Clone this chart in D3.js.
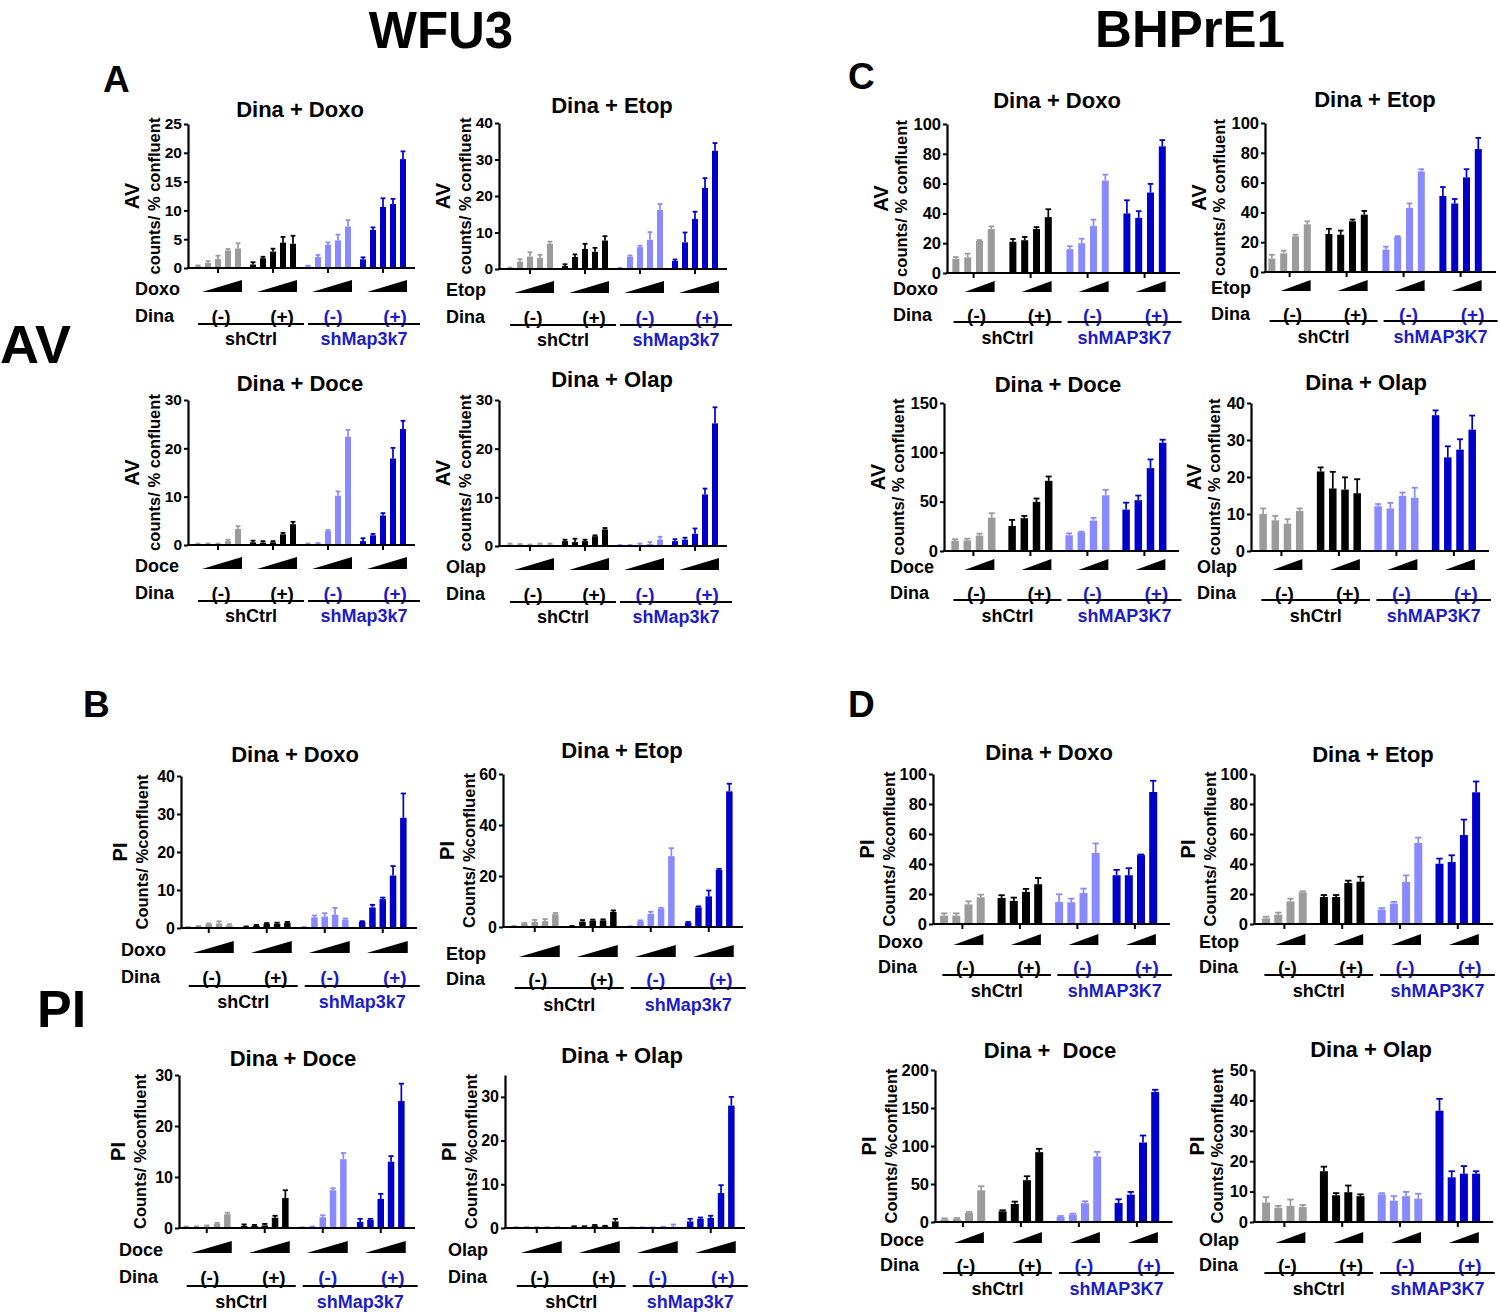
<!DOCTYPE html>
<html>
<head>
<meta charset="utf-8">
<script src="https://cdn.jsdelivr.net/npm/d3@7/dist/d3.min.js"></script>
<style>
  html, body { margin: 0; padding: 0; background: #fff; }
  svg text { font-family: "Liberation Sans", Arial, sans-serif; font-weight: bold; white-space: pre; }
</style>
</head>
<body>
<svg id="fig" width="1500" height="1313"></svg>
<script>
// ---------------- DATA ----------------
// groups: shCtrl Dina(-), shCtrl Dina(+), shKD Dina(-), shKD Dina(+); each with increasing drug dose
const dinaLabels = ["(-)", "(+)", "(-)", "(+)"];
const cellLabelsWFU3 = ["shCtrl", "shMap3k7"];
const cellLabelsBHPrE1 = ["shCtrl", "shMAP3K7"];

// WFU3 AV (panel A)
const A_Doxo_mean = [[0.35,0.9,1.55,3.05,3.4],[0.6,1.7,2.85,4.4,4.2],[0.3,1.9,4.05,4.8,7.2],[1.5,6.6,10.6,11.1,18.9]];
const A_Doxo_sem  = [[0.1,0.3,0.6,0.25,0.9],[0.4,0.25,0.5,1.0,1.4],[0.1,0.35,0.4,1.0,1.1],[0.35,0.45,1.5,0.9,1.35]];
const A_Etop_mean = [[0.3,2.0,3.4,3.0,6.9],[0.8,3.3,5.5,4.7,7.8],[0.2,3.4,6.0,8.0,16.2],[2.2,7.3,13.7,22.2,32.4]];
const A_Etop_sem  = [[0.1,0.7,1.2,0.9,0.6],[0.5,0.7,1.4,1.1,1.2],[0.1,0.3,0.4,2.1,1.6],[0.4,2.7,2.0,2.7,2.1]];
const A_Doce_mean = [[0.2,0.2,0.2,0.8,3.3],[0.55,0.5,0.55,2.2,4.3],[0.2,0.3,2.9,10.2,22.4],[0.8,2.0,6.1,17.9,24.0]];
const A_Doce_sem  = [[0.1,0.1,0.1,0.3,0.6],[0.35,0.3,0.25,0.3,0.5],[0.1,0.1,0.2,0.9,1.4],[0.6,0.3,0.5,2.2,1.7]];
const A_Olap_mean = [[0.3,0.3,0.2,0.3,0.3],[1.0,0.8,1.0,2.0,3.4],[0.15,0.15,0.25,0.4,1.3],[1.0,1.3,2.5,10.6,25.2]];
const A_Olap_sem  = [[0.2,0.1,0.1,0.2,0.2],[0.3,0.7,0.3,0.2,0.3],[0.05,0.05,0.25,0.4,0.6],[0.4,0.4,1.1,1.2,3.3]];

// WFU3 PI (panel B)
const B_Doxo_mean = [[0.2,0.4,1.0,1.2,0.7],[0.3,0.6,1.05,1.1,1.3],[0.2,2.8,3.0,3.5,2.2],[1.6,5.4,7.6,13.8,29.0]];
const B_Doxo_sem  = [[0.05,0.1,0.2,0.55,0.3],[0.1,0.2,0.25,0.3,0.3],[0.05,0.5,0.9,1.8,0.3],[0.2,0.7,0.4,2.5,6.4]];
const B_Etop_mean = [[0.3,1.3,2.0,2.3,5.0],[0.3,2.1,2.5,2.6,5.9],[0.2,2.3,5.1,7.2,27.8],[1.7,7.7,12.0,22.4,53.2]];
const B_Etop_sem  = [[0.1,0.3,0.8,0.8,0.5],[0.1,0.6,0.4,0.4,0.6],[0.1,0.3,0.9,0.3,3.1],[0.3,0.4,2.3,0.4,3.0]];
const B_Doce_mean = [[0.2,0.2,0.3,0.8,2.7],[0.4,0.4,0.5,2.0,5.9],[0.1,0.2,2.1,7.4,13.5],[1.2,1.6,5.7,13.0,24.9]];
const B_Doce_sem  = [[0.1,0.1,0.2,0.2,0.3],[0.3,0.2,0.3,0.4,1.5],[0.05,0.1,0.4,0.4,1.2],[0.6,0.2,1.0,1.1,3.4]];
const B_Olap_mean = [[0.15,0.15,0.15,0.15,0.15],[0.3,0.3,0.5,0.4,1.5],[0.1,0.1,0.1,0.2,0.3],[1.5,2.1,2.3,8.0,28.0]];
const B_Olap_sem  = [[0.05,0.05,0.05,0.05,0.05],[0.1,0.1,0.2,0.1,0.6],[0.05,0.05,0.05,0.1,0.5],[0.6,0.3,0.5,1.8,2.0]];

// BHPrE1 AV (panel C)
const C_Doxo_mean = [[9.5,10.5,21.5,29.5],[21,22,29.5,37.5],[16,20,31.5,62],[40,37,54,85]];
const C_Doxo_sem  = [[1.2,2.5,0.6,1.8],[1.8,2.2,1.3,5.3],[2,3,4.3,4],[8.8,4.5,5.8,4.2]];
const C_Etop_mean = [[9,12.5,24,32],[25.5,25,34,38.5],[15,23.5,43,67.5],[51,46,63.5,82.5]];
const C_Etop_sem  = [[2.5,1.8,1.0,2.0],[3.5,2.8,1.2,2.5],[2,0.6,3,1.5],[6,3,5.5,7.5]];
const C_Doce_mean = [[10.5,10.8,15.6,33.9],[25.4,33.2,49.8,71.1],[15.9,19,30.8,56.5],[42,51.5,84,109.7]];
const C_Doce_sem  = [[1.4,1.7,2.0,4.4],[6.1,2.4,3.4,4.4],[2,0.6,2.7,5.5],[7,4.7,8.8,3.1]];
const C_Olap_mean = [[10,8.3,7.4,10.8],[21.5,16.9,16.6,15.6],[12.1,11.5,14.9,14.4],[36.7,25.3,27.4,32.8]];
const C_Olap_sem  = [[1.5,1.2,1.2,0.7],[1.1,4.5,3.3,3.8],[0.6,1.5,0.9,2.7],[1.3,3.0,2.8,3.8]];

// BHPrE1 PI (panel D)
const D_Doxo_mean = [[5.6,5.6,13.1,17.8],[17.4,15.4,21.4,26.5],[14.7,14.5,20.7,47.4],[32.5,32.5,45.9,88]];
const D_Doxo_sem  = [[1.5,1.5,2.0,1.8],[1.8,2.2,2.0,4.2],[5.1,2.4,2.9,6.3],[3.6,4.7,0.4,7.5]];
const D_Etop_mean = [[3.8,6.2,15.1,21.1],[18,18,27.3,28.2],[9.6,13.6,28,54],[40.2,41.3,59.3,87.8]];
const D_Etop_sem  = [[1.1,1.4,1.8,0.7],[1.3,1.3,1.6,3.3],[1.0,1.1,4.4,3.6],[3.4,4.5,10.3,7.2]];
const D_Doce_mean = [[3.5,4,11.9,41.8],[14,23.7,55,91.9],[6.6,9.7,24.6,86.2],[25,36,104.6,171]];
const D_Doce_sem  = [[1.3,1.3,1.3,5.2],[1.4,3.1,5.2,4.4],[1.3,1.3,2.7,6.1],[4.9,3.6,9.2,3]];
const D_Olap_mean = [[6.4,4.7,5.3,4.9],[16.7,8.8,9.8,8.5],[9.1,7.0,8.5,7.7],[36.6,14.7,15.9,15.9]];
const D_Olap_sem  = [[1.8,0.6,2.1,0.7],[1.5,0.7,2.2,0.6],[0.4,1.5,1.4,1.6],[3.9,2.0,2.5,0.8]];

// ---------------- STYLE / LAYOUT ----------------
const groupColors = ["#9b9b9b", "#000000", "#8a8aff", "#0000c8"];
const labelBlue = "#1c1cc8";

const styles = {
  A: {tickFont:15.5, yt:["AV","counts/ % confluent"], t1:-56, t2:-34, rowDx:-53, wedgeDy:24, dinaDy:48, lineDy:56, cellDy:71, wedge:[-16,24,12], cells:cellLabelsWFU3},
  B: {tickFont:16, yt:["PI","Counts/ %confluent"], t1:-61, t2:-39, rowDx:-60, wedgeDy:25, dinaDy:49, lineDy:58, cellDy:74, wedge:[-16,25,12], cells:cellLabelsWFU3},
  C: {tickFont:16.5, yt:["AV","counts/ % confluent"], t1:-66, t2:-46, rowDx:-54, wedgeDy:19, dinaDy:42, lineDy:49, cellDy:65, wedge:[-9,21,11], cells:cellLabelsBHPrE1},
  D: {tickFont:16.5, yt:["PI","Counts/ %confluent"], t1:-66, t2:-44, rowDx:-55, wedgeDy:21, dinaDy:43, lineDy:51, cellDy:67, wedge:[-9,21,11], cells:cellLabelsBHPrE1}
};

const panels = [
  {st:"A", mean:A_Doxo_mean, sem:A_Doxo_sem, title:"Dina + Doxo", drug:"Doxo", ymax:25, ticks:[0,5,10,15,20,25], x0:188, lead:5, s:10, P:55, bw:6, top:124, zero:268, tx:300, ty:117},
  {st:"A", mean:A_Etop_mean, sem:A_Etop_sem, title:"Dina + Etop", drug:"Etop", ymax:40, ticks:[0,10,20,30,40], x0:499, lead:6, s:10, P:55, bw:6, top:123, zero:269, tx:612, ty:113},
  {st:"A", mean:A_Doce_mean, sem:A_Doce_sem, title:"Dina + Doce", drug:"Doce", ymax:30, ticks:[0,10,20,30], x0:188, lead:5, s:10, P:55, bw:6, top:400, zero:545, tx:300, ty:391},
  {st:"A", mean:A_Olap_mean, sem:A_Olap_sem, title:"Dina + Olap", drug:"Olap", ymax:30, ticks:[0,10,20,30], x0:499, lead:6, s:10, P:55, bw:6, top:400, zero:546, tx:612, ty:387},

  {st:"B", mean:B_Doxo_mean, sem:B_Doxo_sem, title:"Dina + Doxo", drug:"Doxo", ymax:40, ticks:[0,10,20,30,40], x0:181, lead:2, s:10.3, P:58, bw:6.5, top:776, zero:928, tx:295, ty:762},
  {st:"B", mean:B_Etop_mean, sem:B_Etop_sem, title:"Dina + Etop", drug:"Etop", ymax:60, ticks:[0,20,40,60], x0:503, lead:6, s:10.3, P:58, bw:6.5, top:774, zero:927, tx:622, ty:758,
     over:{wedgeDy:30, dinaDy:52, lineDy:61, cellDy:78, t1:-56, t2:-34, rowDx:-57}},
  {st:"B", mean:B_Doce_mean, sem:B_Doce_sem, title:"Dina + Doce", drug:"Doce", ymax:30, ticks:[0,10,20,30], x0:179, lead:2, s:10.3, P:58, bw:6.5, top:1075, zero:1228, tx:293, ty:1066},
  {st:"B", mean:B_Olap_mean, sem:B_Olap_sem, title:"Dina + Olap", drug:"Olap", ymax:35, ticks:[0,10,20,30], x0:505, lead:6, s:10.3, P:58, bw:6.5, top:1075, zero:1228, tx:622, ty:1063,
     over:{t1:-56, t2:-34, rowDx:-57}},

  {st:"C", mean:C_Doxo_mean, sem:C_Doxo_sem, title:"Dina + Doxo", drug:"Doxo", ymax:100, ticks:[0,20,40,60,80,100], x0:947, lead:3, s:11.8, P:57, bw:7, top:124, zero:273, tx:1057, ty:108},
  {st:"C", mean:C_Etop_mean, sem:C_Etop_sem, title:"Dina + Etop", drug:"Etop", ymax:100, ticks:[0,20,40,60,80,100], x0:1265, lead:1, s:11.8, P:57, bw:7, top:123, zero:272, tx:1375, ty:107},
  {st:"C", mean:C_Doce_mean, sem:C_Doce_sem, title:"Dina + Doce", drug:"Doce", ymax:150, ticks:[0,50,100,150], x0:944, lead:5, s:12.2, P:57, bw:7.5, top:403, zero:551, tx:1058, ty:392},
  {st:"C", mean:C_Olap_mean, sem:C_Olap_sem, title:"Dina + Olap", drug:"Olap", ymax:40, ticks:[0,10,20,30,40], x0:1251, lead:6, s:12.2, P:57.5, bw:7.5, top:403, zero:551, tx:1366, ty:390,
     over:{t1:-57, t2:-37}},

  {st:"D", mean:D_Doxo_mean, sem:D_Doxo_sem, title:"Dina + Doxo", drug:"Doxo", ymax:100, ticks:[0,20,40,60,80,100], x0:933, lead:5, s:12.2, P:57.5, bw:8, top:774, zero:924, tx:1049, ty:760},
  {st:"D", mean:D_Etop_mean, sem:D_Etop_sem, title:"Dina + Etop", drug:"Etop", ymax:100, ticks:[0,20,40,60,80,100], x0:1254, lead:6, s:12.2, P:57.8, bw:8, top:774, zero:924, tx:1373, ty:762},
  {st:"D", mean:D_Doce_mean, sem:D_Doce_sem, title:"Dina +  Doce", drug:"Doce", ymax:200, ticks:[0,50,100,150,200], x0:935, lead:3.5, s:12.2, P:58, bw:8, top:1070, zero:1222, tx:1050, ty:1058},
  {st:"D", mean:D_Olap_mean, sem:D_Olap_sem, title:"Dina + Olap", drug:"Olap", ymax:50, ticks:[0,10,20,30,40,50], x0:1254, lead:6, s:12.2, P:57.8, bw:8, top:1070, zero:1222, tx:1371, ty:1057,
     over:{t1:-57, t2:-37}}
];

// ---------------- DRAW ----------------
const svg = d3.select("#fig");

function drawPanel(p) {
  const st = Object.assign({}, styles[p.st], p.over || {});
  const g = svg.append("g");
  const nb = p.mean[0].length;
  const y = d3.scaleLinear().domain([0, p.ymax]).range([p.zero, p.top]);
  const xg = d3.scaleBand().domain(d3.range(4)).range([p.x0 + p.lead, p.x0 + p.lead + 4 * p.P]).padding(0);
  const xb = d3.scaleBand().domain(d3.range(nb)).range([0, nb * p.s]).padding(0);
  const barX = (gi, bi) => xg(gi) + xb(bi) + p.s / 2;
  const gc = gi => xg(gi) + nb * p.s / 2;

  // title
  g.append("text").attr("x", p.tx).attr("y", p.ty).attr("text-anchor", "middle")
    .attr("font-size", 22).text(p.title);

  // bars and error bars
  const flat = [];
  p.mean.forEach((row, gi) => row.forEach((v, bi) => flat.push({gi, bi, v, e: p.sem[gi][bi]})));
  g.selectAll("rect.bar").data(flat).enter().append("rect")
    .attr("x", d => barX(d.gi, d.bi) - p.bw / 2)
    .attr("width", p.bw)
    .attr("y", d => y(d.v))
    .attr("height", d => y(0) - y(d.v))
    .attr("fill", d => groupColors[d.gi]);
  g.selectAll("line.err").data(flat).enter().append("line")
    .attr("x1", d => barX(d.gi, d.bi)).attr("x2", d => barX(d.gi, d.bi))
    .attr("y1", d => y(d.v)).attr("y2", d => y(d.v + d.e))
    .attr("stroke", d => groupColors[d.gi]).attr("stroke-width", 1.7);
  g.selectAll("line.cap").data(flat).enter().append("line")
    .attr("x1", d => barX(d.gi, d.bi) - p.bw * 0.4).attr("x2", d => barX(d.gi, d.bi) + p.bw * 0.4)
    .attr("y1", d => y(d.v + d.e)).attr("y2", d => y(d.v + d.e))
    .attr("stroke", d => groupColors[d.gi]).attr("stroke-width", 1.8);

  // y axis
  const ya = g.append("g").attr("transform", `translate(${p.x0},0)`)
    .call(d3.axisLeft(y).tickValues(p.ticks).tickSize(4).tickSizeOuter(0).tickPadding(2).tickFormat(d3.format("d")));
  ya.attr("font-size", st.tickFont).attr("font-family", null);
  ya.select(".domain").attr("stroke", "#000").attr("stroke-width", 2.2);
  ya.selectAll(".tick line").attr("stroke", "#000").attr("stroke-width", 2);
  ya.selectAll(".tick text").attr("font-size", st.tickFont).attr("fill", "#000");

  // x axis
  const xEnd = p.x0 + p.lead + 4 * p.P + 2;
  g.append("line").attr("x1", p.x0 - 1).attr("x2", xEnd).attr("y1", p.zero).attr("y2", p.zero)
    .attr("stroke", "#000").attr("stroke-width", 2.2);
  g.selectAll("line.xt").data(d3.range(4)).enter().append("line")
    .attr("x1", gc).attr("x2", gc).attr("y1", p.zero).attr("y2", p.zero + 5)
    .attr("stroke", "#000").attr("stroke-width", 2);

  // y axis titles
  const ymid = (p.top + p.zero) / 2;
  g.append("text").attr("transform", `translate(${p.x0 + st.t1},${ymid}) rotate(-90)`)
    .attr("text-anchor", "middle").attr("dy", "0.35em").attr("font-size", 20).text(st.yt[0]);
  g.append("text").attr("transform", `translate(${p.x0 + st.t2},${ymid}) rotate(-90)`)
    .attr("text-anchor", "middle").attr("dy", "0.35em").attr("font-size", 16.5).text(st.yt[1]);

  // dose wedges
  const wb = p.zero + st.wedgeDy;
  const [wl, wr, wh] = st.wedge;
  g.selectAll("path.wedge").data(d3.range(4)).enter().append("path")
    .attr("d", gi => `M${gc(gi) + wl},${wb} L${gc(gi) + wr},${wb - wh} L${gc(gi) + wr},${wb} Z`)
    .attr("fill", "#000");
  g.append("text").attr("x", p.x0 + st.rowDx).attr("y", wb - 3).attr("dy", "0.35em")
    .attr("font-size", 18).text(p.drug);

  // Dina row
  const dy = p.zero + st.dinaDy;
  g.append("text").attr("x", p.x0 + st.rowDx).attr("y", dy).attr("dy", "0.35em")
    .attr("font-size", 18).text("Dina");
  const dOff = [3, 9, 5, 12];
  g.selectAll("text.dina").data(d3.range(4)).enter().append("text")
    .attr("x", gi => gc(gi) + dOff[gi]).attr("y", dy).attr("dy", "0.35em")
    .attr("text-anchor", "middle").attr("font-size", 19)
    .attr("fill", gi => gi < 2 ? "#000" : labelBlue)
    .text(gi => dinaLabels[gi]);

  // cell line lines & labels
  const ly = p.zero + st.lineDy;
  const spans = [[gc(0) - 20, gc(1) + 31], [gc(2) - 20, gc(3) + 37]];
  g.selectAll("line.cl").data(spans).enter().append("line")
    .attr("x1", d => d[0]).attr("x2", d => d[1]).attr("y1", ly).attr("y2", ly)
    .attr("stroke", "#000").attr("stroke-width", 2);
  g.selectAll("text.cl").data(spans).enter().append("text")
    .attr("x", d => (d[0] + d[1]) / 2).attr("y", p.zero + st.cellDy).attr("dy", "0.35em")
    .attr("text-anchor", "middle").attr("font-size", 18)
    .attr("fill", (d, i) => i === 0 ? "#000" : labelBlue)
    .text((d, i) => st.cells[i]);
}

panels.forEach(drawPanel);

// big labels
const big = [
  {t:"WFU3", x:441, y:48, fs:51, a:"middle"},
  {t:"BHPrE1", x:1190, y:47, fs:51, a:"middle"},
  {t:"A", x:103, y:92, fs:37, a:"start"},
  {t:"C", x:848, y:89, fs:37, a:"start"},
  {t:"B", x:83, y:717, fs:37, a:"start"},
  {t:"D", x:848, y:717, fs:37, a:"start"},
  {t:"AV", x:0, y:363, fs:54, a:"start"},
  {t:"PI", x:37, y:1027, fs:52, a:"start"}
];
svg.selectAll("text.big").data(big).enter().append("text")
  .attr("x", d => d.x).attr("y", d => d.y).attr("font-size", d => d.fs)
  .attr("text-anchor", d => d.a).text(d => d.t);
</script>
</body>
</html>
